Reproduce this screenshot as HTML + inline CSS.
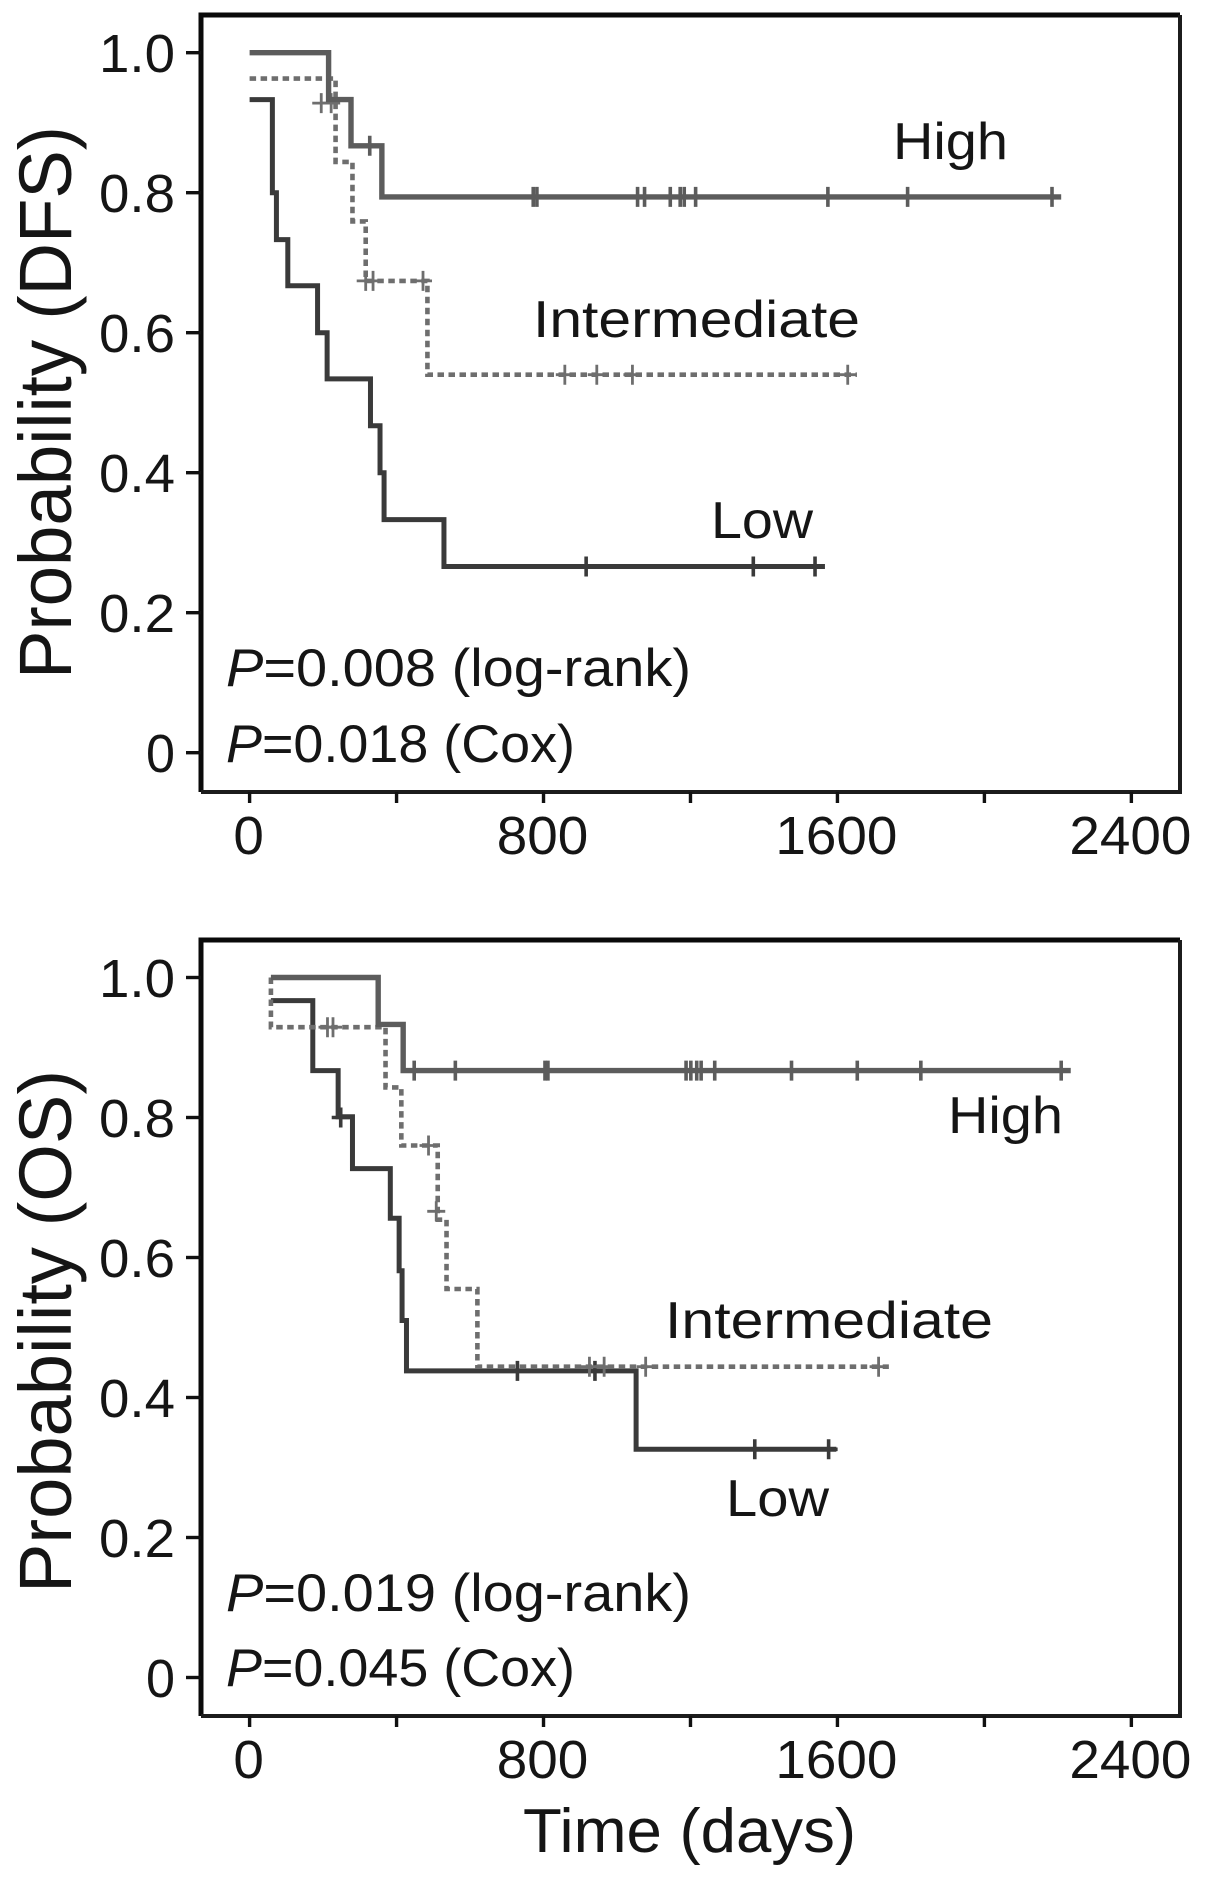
<!DOCTYPE html>
<html lang="en">
<head>
<meta charset="utf-8">
<title>Kaplan-Meier survival curves</title>
<style>
html,body{margin:0;padding:0;background:#fff;}
svg{display:block;}
text{font-family:"Liberation Sans",sans-serif;fill:#151515;}
</style>
</head>
<body>
<svg id="chart" xmlns="http://www.w3.org/2000/svg" width="1205" height="1880" viewBox="0 0 1205 1880">
  <rect x="0" y="0" width="1205" height="1880" fill="#fff"/>
  <g id="panel-dfs"></g>
  <g id="panel-os"></g>

  <text transform="translate(71,679) rotate(-90)" font-size="74" textLength="553" lengthAdjust="spacingAndGlyphs">Probability (DFS)</text>
  <text x="893" y="159" font-size="52" textLength="115" lengthAdjust="spacingAndGlyphs">High</text>
  <text x="533" y="337" font-size="52" textLength="327" lengthAdjust="spacingAndGlyphs">Intermediate</text>
  <text x="711" y="538" font-size="52" textLength="102" lengthAdjust="spacingAndGlyphs">Low</text>
  <text x="226" y="686" font-size="53" textLength="465" lengthAdjust="spacingAndGlyphs"><tspan font-style="italic">P</tspan>=0.008 (log-rank)</text>
  <text x="226" y="762" font-size="53" textLength="349" lengthAdjust="spacingAndGlyphs"><tspan font-style="italic">P</tspan>=0.018 (Cox)</text>

  <text transform="translate(71,1593) rotate(-90)" font-size="74" textLength="523" lengthAdjust="spacingAndGlyphs">Probability (OS)</text>
  <text x="948" y="1133" font-size="52" textLength="115" lengthAdjust="spacingAndGlyphs">High</text>
  <text x="665" y="1338" font-size="52" textLength="328" lengthAdjust="spacingAndGlyphs">Intermediate</text>
  <text x="726" y="1516" font-size="52" textLength="103" lengthAdjust="spacingAndGlyphs">Low</text>
  <text x="226" y="1611" font-size="53" textLength="465" lengthAdjust="spacingAndGlyphs"><tspan font-style="italic">P</tspan>=0.019 (log-rank)</text>
  <text x="226" y="1686" font-size="53" textLength="349" lengthAdjust="spacingAndGlyphs"><tspan font-style="italic">P</tspan>=0.045 (Cox)</text>

  <text x="523" y="1852" font-size="62" textLength="333" lengthAdjust="spacingAndGlyphs">Time (days)</text>
</svg>
<script>
// Axis tick labels
const yTickValues = [0, 0.2, 0.4, 0.6, 0.8, 1.0];
const yTickLabels = ["0", "0.2", "0.4", "0.6", "0.8", "1.0"];
const xTickValues = [0, 400, 800, 1200, 1600, 2000, 2400];
const xTickLabels = ["0", "", "800", "", "1600", "", "2400"];

// DFS panel: step curves (day of each event, probability after it) and censor marks
const dfsHighDays = [0, 215, 276, 360, 2209];
const dfsHighProbs = [1.0, 0.933, 0.867, 0.794, 0.794];
const dfsHighCensorDays = [327, 772, 782, 1056, 1075, 1145, 1172, 1183, 1214, 1574, 1791, 2184];
const dfsHighCensorProbs = [0.867, 0.794, 0.794, 0.794, 0.794, 0.794, 0.794, 0.794, 0.794, 0.794, 0.794, 0.794];

const dfsIntermediateDays = [0, 234, 280, 316, 484, 1653];
const dfsIntermediateProbs = [0.963, 0.844, 0.759, 0.674, 0.54, 0.54];
const dfsIntermediateCensorDays = [195, 222, 316, 336, 472, 858, 945, 1042, 1628];
const dfsIntermediateCensorProbs = [0.928, 0.928, 0.674, 0.674, 0.674, 0.54, 0.54, 0.54, 0.54];

const dfsLowDays = [0, 62, 73, 104, 185, 211, 329, 355, 366, 529, 1566];
const dfsLowProbs = [0.933, 0.8, 0.733, 0.667, 0.6, 0.534, 0.467, 0.4, 0.333, 0.266, 0.266];
const dfsLowCensorDays = [916, 1371, 1539];
const dfsLowCensorProbs = [0.266, 0.266, 0.266];

// OS panel
const osHighDays = [58, 350, 418, 2235];
const osHighProbs = [1.0, 0.933, 0.867, 0.867];
const osHighCensorDays = [448, 560, 804, 812, 1188, 1201, 1217, 1229, 1266, 1475, 1654, 1827, 2209];
const osHighCensorProbs = [0.867, 0.867, 0.867, 0.867, 0.867, 0.867, 0.867, 0.867, 0.867, 0.867, 0.867, 0.867, 0.867];

const osIntermediateDays = [58, 58, 370, 413, 512, 536, 620, 1740];
const osIntermediateProbs = [1.0, 0.929, 0.843, 0.76, 0.654, 0.555, 0.444, 0.444];
const osIntermediateCensorDays = [212, 227, 487, 508, 925, 965, 1078, 1712];
const osIntermediateCensorProbs = [0.929, 0.929, 0.76, 0.666, 0.444, 0.444, 0.444, 0.444];

const osLowDays = [58, 172, 241, 280, 383, 407, 415, 427, 1052, 1597];
const osLowProbs = [0.967, 0.867, 0.801, 0.727, 0.656, 0.581, 0.51, 0.438, 0.326, 0.326];
const osLowCensorDays = [248, 729, 940, 1375, 1576];
const osLowCensorProbs = [0.8, 0.438, 0.438, 0.326, 0.326];

const SVG_NS = "http://www.w3.org/2000/svg";
const frameLeft = 201, frameRight = 1180;

function xScale(day) {
  return 249.6 + 0.3674 * day;
}

function makeYScale(zeroPixel) {
  return function (prob) {
    return zeroPixel - 700 * prob;
  };
}

function drawAxes(group, prefix, frameTop, frameBottom, yScale) {
  const frame = document.createElementNS(SVG_NS, "path");
  
  
  frame.setAttribute("d", "M" + frameLeft + " " + frameBottom + "V" + frameTop + "H" + frameRight);
  frame.setAttribute("fill", "none");
  frame.setAttribute("stroke", "#0a0a0a");
  frame.setAttribute("stroke-width", "5");
  group.appendChild(frame);

  const frameEdge = document.createElementNS(SVG_NS, "path");
  
  
  frameEdge.setAttribute("d", "M" + frameRight + " " + frameTop + "V" + frameBottom + "H" + frameLeft);
  frameEdge.setAttribute("fill", "none");
  frameEdge.setAttribute("stroke", "#1c1c1c");
  frameEdge.setAttribute("stroke-width", "4");
  group.appendChild(frameEdge);

  yTickValues.forEach(function (value, i) {
    const tick = document.createElementNS(SVG_NS, "line");
    
    
    tick.setAttribute("x1", 186);
    tick.setAttribute("x2", frameLeft);
    tick.setAttribute("y1", yScale(value));
    tick.setAttribute("y2", yScale(value));
    tick.setAttribute("stroke", "#111");
    tick.setAttribute("stroke-width", "3.4");
    group.appendChild(tick);

    const label = document.createElementNS(SVG_NS, "text");
    
    
    label.setAttribute("x", 175);
    label.setAttribute("y", yScale(value) + 19.5);
    label.setAttribute("text-anchor", "end");
    label.setAttribute("font-size", "54");
    label.setAttribute("textLength", yTickLabels[i].length === 1 ? 29 : 76);
    label.setAttribute("lengthAdjust", "spacingAndGlyphs");
    label.textContent = yTickLabels[i];
    group.appendChild(label);
  });

  xTickValues.forEach(function (value, i) {
    const tick = document.createElementNS(SVG_NS, "line");
    
    
    tick.setAttribute("x1", xScale(value));
    tick.setAttribute("x2", xScale(value));
    tick.setAttribute("y1", frameBottom);
    tick.setAttribute("y2", frameBottom + 11);
    tick.setAttribute("stroke", "#111");
    tick.setAttribute("stroke-width", "3.4");
    group.appendChild(tick);

    if (xTickLabels[i] !== "") {
      const label = document.createElementNS(SVG_NS, "text");
      
      
      label.setAttribute("x", xScale(value) - 1);
      label.setAttribute("y", frameBottom + 62);
      label.setAttribute("text-anchor", "middle");
      label.setAttribute("font-size", "54");
      label.setAttribute("textLength", xTickLabels[i].length * 30.5);
      label.setAttribute("lengthAdjust", "spacingAndGlyphs");
      label.textContent = xTickLabels[i];
      group.appendChild(label);
    }
  });
}

function drawSeries(group, name, days, probs, censorDays, censorProbs, yScale, color, width, dash, tickWidth) {
  let d = "M" + xScale(days[0]) + " " + yScale(probs[0]);
  for (let i = 1; i < days.length; i++) {
    d += "H" + xScale(days[i]) + "V" + yScale(probs[i]);
  }
  const curve = document.createElementNS(SVG_NS, "path");
  
  
  curve.setAttribute("d", d);
  curve.setAttribute("fill", "none");
  curve.setAttribute("stroke", color);
  curve.setAttribute("stroke-width", width);
  curve.setAttribute("stroke-linejoin", "miter");
  if (dash) {
    curve.setAttribute("stroke-dasharray", dash);
  }
  group.appendChild(curve);

  censorDays.forEach(function (day, i) {
    const cx = xScale(day);
    const cy = yScale(censorProbs[i]);
    const mark = document.createElementNS(SVG_NS, "path");
    
    
    mark.setAttribute("d", "M" + (cx - 9) + " " + cy + "H" + (cx + 9) + "M" + cx + " " + (cy - 10) + "V" + (cy + 10));
    mark.setAttribute("fill", "none");
    mark.setAttribute("stroke", color);
    mark.setAttribute("stroke-width", tickWidth);
    group.appendChild(mark);
  });
}

const dfsGroup = document.getElementById("panel-dfs");
const dfsY = makeYScale(752.7);
drawAxes(dfsGroup, "dfs", 15, 792, dfsY);
drawSeries(dfsGroup, "dfs-low", dfsLowDays, dfsLowProbs, dfsLowCensorDays, dfsLowCensorProbs, dfsY, "#3a3a3a", 5, null, 3.6);
drawSeries(dfsGroup, "dfs-intermediate", dfsIntermediateDays, dfsIntermediateProbs, dfsIntermediateCensorDays, dfsIntermediateCensorProbs, dfsY, "#6e6e6e", 4.6, "6.5 4.5", 2.8);
drawSeries(dfsGroup, "dfs-high", dfsHighDays, dfsHighProbs, dfsHighCensorDays, dfsHighCensorProbs, dfsY, "#5c5c5c", 5.4, null, 3.6);

const osGroup = document.getElementById("panel-os");
const osY = makeYScale(1677.5);
drawAxes(osGroup, "os", 940, 1716, osY);
drawSeries(osGroup, "os-low", osLowDays, osLowProbs, osLowCensorDays, osLowCensorProbs, osY, "#3a3a3a", 5, null, 3.6);
drawSeries(osGroup, "os-intermediate", osIntermediateDays, osIntermediateProbs, osIntermediateCensorDays, osIntermediateCensorProbs, osY, "#6e6e6e", 4.6, "6.5 4.5", 2.8);
drawSeries(osGroup, "os-high", osHighDays, osHighProbs, osHighCensorDays, osHighCensorProbs, osY, "#5c5c5c", 5.4, null, 3.6);
</script>
</body>
</html>
